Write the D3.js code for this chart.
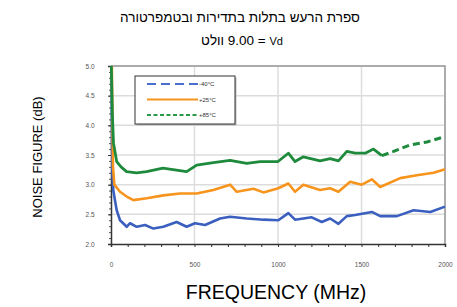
<!DOCTYPE html>
<html>
<head>
<meta charset="utf-8">
<script src="https://cdn.jsdelivr.net/npm/d3@7"></script>
<style>
  body { margin: 0; background: #fff; }
  svg { display: block; font-family: "Liberation Sans", Arial, sans-serif; }
</style>
</head>
<body>
<div id="chart"></div>
<script>
// frequency (MHz) / noise figure (dB) for each temperature
const freqBlue = [3, 8, 14, 34, 54, 94, 114, 154, 204, 254, 313, 393, 453, 503, 563, 653, 713, 813, 913, 1002, 1062, 1102, 1202, 1262, 1312, 1362, 1412, 1462, 1562, 1612, 1712, 1812, 1912, 2000];
const nfBlue   = [5.0, 3.2, 2.9, 2.57, 2.4, 2.29, 2.35, 2.29, 2.32, 2.26, 2.29, 2.37, 2.29, 2.35, 2.32, 2.43, 2.46, 2.43, 2.41, 2.4, 2.52, 2.41, 2.45, 2.37, 2.43, 2.34, 2.47, 2.49, 2.54, 2.47, 2.47, 2.57, 2.54, 2.63];

const freqOrange = [5, 12, 20, 54, 94, 134, 214, 314, 413, 513, 613, 713, 753, 853, 913, 1002, 1062, 1102, 1152, 1252, 1312, 1362, 1432, 1502, 1562, 1612, 1732, 1832, 1932, 2000];
const nfOrange   = [5.0, 3.3, 3.0, 2.88, 2.8, 2.74, 2.77, 2.82, 2.85, 2.85, 2.91, 3.0, 2.88, 2.93, 2.87, 2.94, 3.02, 2.88, 3.0, 2.91, 2.94, 2.88, 3.05, 3.0, 3.09, 2.96, 3.11, 3.16, 3.2, 3.26];

const freqGreen = [2, 8, 15, 34, 60, 93, 153, 213, 311, 453, 513, 613, 713, 813, 893, 1000, 1062, 1102, 1152, 1252, 1312, 1362, 1412, 1462, 1522, 1572, 1622, 1692, 1792, 1892, 2000];
const nfGreen   = [5.0, 4.2, 3.7, 3.39, 3.3, 3.22, 3.2, 3.22, 3.28, 3.22, 3.33, 3.37, 3.41, 3.36, 3.39, 3.39, 3.53, 3.39, 3.47, 3.4, 3.44, 3.4, 3.56, 3.53, 3.53, 3.6, 3.49, 3.56, 3.67, 3.72, 3.81];
const greenDashFrom = 1622; // green trace is drawn dashed above this frequency

const legendLabels = ["-40°C", "+25°C", "+85°C"];
const xTicks = [0, 500, 1000, 1500, 2000];
const yTicks = [2.0, 2.5, 3.0, 3.5, 4.0, 4.5, 5.0];

const width = 457, height = 307;
const margin = { top: 66, right: 12, bottom: 63, left: 111 };

const svg = d3.select("#chart").append("svg")
    .attr("width", width)
    .attr("height", height);

const x = d3.scaleLinear().domain([0, 2000]).range([margin.left, width - margin.right]);
const y = d3.scaleLinear().domain([2, 5]).range([height - margin.bottom, margin.top]);

// title
svg.append("text")
    .attr("x", 240).attr("y", 22)
    .attr("text-anchor", "middle")
    .attr("direction", "rtl")
    .style("font-size", "13.5px")
    .text("ספרת הרעש בתלות בתדירות ובטמפרטורה");
const t2 = svg.append("text")
    .attr("x", 242).attr("y", 45)
    .attr("text-anchor", "middle")
    .attr("direction", "rtl")
    .style("font-size", "13.5px");
t2.append("tspan").style("font-size", "11px").text("Vd");
t2.append("tspan").text("\u200F = \u200F9.00 וולט");

// grid
svg.append("g").selectAll("line")
    .data(xTicks.slice(1))
    .join("line")
    .attr("x1", d => x(d)).attr("x2", d => x(d))
    .attr("y1", y(2)).attr("y2", y(5))
    .attr("stroke", "#dcdcdc").attr("stroke-width", 1.5);
svg.append("g").selectAll("line")
    .data(yTicks.slice(1))
    .join("line")
    .attr("x1", x(0)).attr("x2", x(2000))
    .attr("y1", d => y(d)).attr("y2", d => y(d))
    .attr("stroke", "#dcdcdc").attr("stroke-width", 1.5);

// frame top/right
svg.append("path")
    .attr("d", `M${x(0)},${y(5)}H${x(2000)}V${y(2)}`)
    .attr("fill", "none").attr("stroke", "#999").attr("stroke-width", 1.5);

// axes
const xAxis = svg.append("g")
    .attr("transform", `translate(0,${y(2)})`)
    .call(d3.axisBottom(x).tickValues(d3.range(0, 2001, 100)).tickSize(3).tickFormat(d => xTicks.includes(d) ? d : ""));
xAxis.select(".domain").attr("stroke", "#333").attr("stroke-width", 1.5);
xAxis.selectAll(".tick line").attr("stroke", "#333");
xAxis.selectAll("text").attr("dy", "2.6em").style("font-size", "6.5px").attr("fill", "#555");

// minor y ticks every 0.1
svg.append("g")
    .attr("transform", `translate(${x(0)},0)`)
    .call(d3.axisLeft(y).tickValues(d3.range(20, 51).map(d => d / 10)).tickSize(2).tickFormat(""))
    .call(g => g.select(".domain").remove())
    .selectAll(".tick line").attr("stroke", "#555");

const yAxis = svg.append("g")
    .attr("transform", `translate(${x(0)},0)`)
    .call(d3.axisLeft(y).tickValues(yTicks).tickSize(3).tickFormat(d3.format(".1f")));
yAxis.select(".domain").attr("stroke", "#333").attr("stroke-width", 1.5);
yAxis.selectAll(".tick line").attr("stroke", "#333");
yAxis.selectAll("text").attr("dx", "-1.6em").style("font-size", "6.5px").attr("fill", "#555");

// series
const line = d3.line().x(d => x(d[0])).y(d => y(d[1]));
const zip = (f, v) => f.map((d, i) => [d, v[i]]);

const blue = zip(freqBlue, nfBlue);
const orange = zip(freqOrange, nfOrange);
const green = zip(freqGreen, nfGreen);
const greenSolid = green.filter(d => d[0] <= greenDashFrom);
const greenDash = green.filter(d => d[0] >= greenDashFrom);

svg.append("path").datum(blue).attr("d", line)
    .attr("fill", "none").attr("stroke", "#3a5fbf").attr("stroke-width", 2.6).attr("stroke-linejoin", "round");
svg.append("path").datum(orange).attr("d", line)
    .attr("fill", "none").attr("stroke", "#f7941d").attr("stroke-width", 2.6).attr("stroke-linejoin", "round");
svg.append("path").datum(greenSolid).attr("d", line)
    .attr("fill", "none").attr("stroke", "#1e8a3c").attr("stroke-width", 2.8).attr("stroke-linejoin", "round");
svg.append("path").datum(greenDash).attr("d", line)
    .attr("fill", "none").attr("stroke", "#1e8a3c").attr("stroke-width", 3).attr("stroke-dasharray", "7,4");

// legend
const legend = svg.append("g").attr("transform", "translate(135,76)");
legend.append("rect").attr("x", 1.5).attr("y", 1.5).attr("width", 100).attr("height", 48).attr("fill", "#bbb");
legend.append("rect").attr("width", 100).attr("height", 48)
    .attr("fill", "#fff").attr("stroke", "#333").attr("stroke-width", 1);
const legendColors = ["#4a6fd0", "#f7941d", "#2a9a48"];
const legendDash = ["9,5", null, "4,2.5"];
legendLabels.forEach((lbl, i) => {
    const ly = 8 + i * 15.5;
    legend.append("line")
        .attr("x1", 12).attr("x2", 63).attr("y1", ly).attr("y2", ly)
        .attr("stroke", legendColors[i]).attr("stroke-width", 2)
        .attr("stroke-dasharray", legendDash[i]);
    legend.append("text")
        .attr("x", 64).attr("y", ly).attr("dy", "0.35em")
        .style("font-size", "6px").attr("fill", "#333")
        .text(lbl);
});

// axis titles
svg.append("text")
    .attr("transform", `translate(42,${(y(2) + y(5)) / 2 + 2}) rotate(-90)`)
    .attr("text-anchor", "middle")
    .style("font-size", "13px")
    .text("NOISE FIGURE (dB)");
svg.append("text")
    .attr("x", 276).attr("y", 299)
    .attr("text-anchor", "middle")
    .style("font-size", "19.5px")
    .text("FREQUENCY (MHz)");
</script>
</body>
</html>
